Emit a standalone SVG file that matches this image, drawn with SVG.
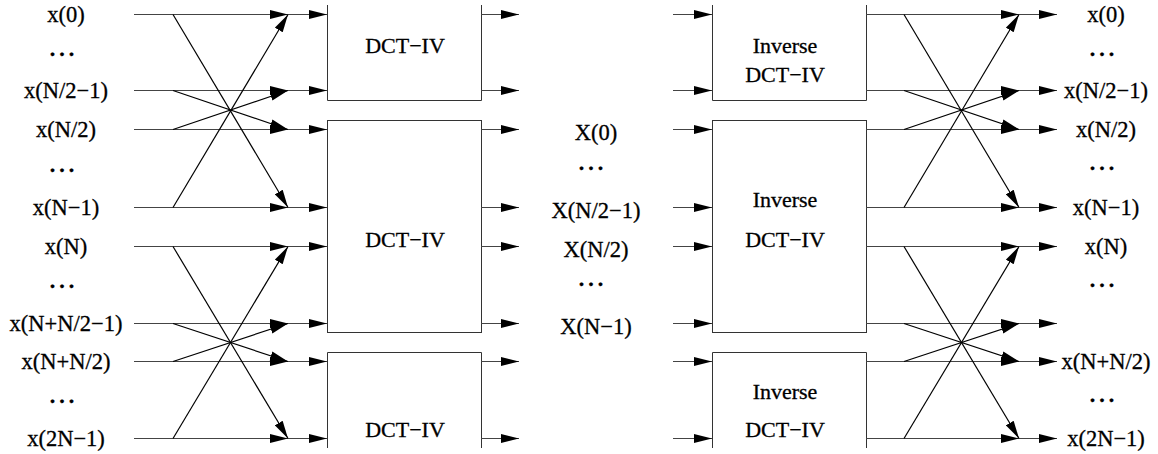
<svg xmlns="http://www.w3.org/2000/svg" width="1158" height="454" viewBox="0 0 1158 454">
<style>
text{font-family:"Liberation Serif","Times New Roman",serif;font-size:22px;fill:#000;stroke:#000;stroke-width:0.3;text-anchor:middle}
.lbl{font-size:22.5px}
.dots{font-weight:bold;letter-spacing:4px}
.box{fill:none;stroke:#333;stroke-width:1}
.h{stroke:#444;stroke-width:1;fill:none}
.d{stroke:#000;stroke-width:1.2;fill:none}
</style>
<defs>
<marker id="a" viewBox="0 0 18 10" refX="18" refY="5" markerWidth="18" markerHeight="10" orient="auto" markerUnits="userSpaceOnUse"><path d="M0,0.5 L18,5 L0,9.5 z" fill="#000"/></marker>
</defs>
<rect width="1158" height="454" fill="#fff"/>

<g id="dct1"><path class="box" d="M327.5,5 V100.5 H481.5 V5"/><text x="405" y="53">DCT−IV</text></g>
<g id="dct2"><rect class="box" x="327.5" y="120.5" width="154" height="212"/><text x="405" y="247">DCT−IV</text></g>
<g id="dct3"><path class="box" d="M327.5,448 V352.5 H481.5 V448"/><text x="405" y="437">DCT−IV</text></g>

<g id="idct1"><path class="box" d="M712.5,5 V100.5 H866.5 V5"/><text x="785" y="53">Inverse</text><text x="785" y="82">DCT−IV</text></g>
<g id="idct2"><rect class="box" x="712.5" y="120.5" width="154" height="212"/><text x="785" y="207">Inverse</text><text x="785" y="247">DCT−IV</text></g>
<g id="idct3"><path class="box" d="M712.5,448 V352.5 H866.5 V448"/><text x="785" y="399">Inverse</text><text x="785" y="437">DCT−IV</text></g>

<g id="inputs">
<text class="lbl" x="66" y="22">x(0)</text>
<text class="dots" x="64" y="56">...</text>
<text class="lbl" x="66" y="98">x(N/2−1)</text>
<text class="lbl" x="66" y="137">x(N/2)</text>
<text class="dots" x="64" y="172">...</text>
<text class="lbl" x="66" y="215">x(N−1)</text>
<text class="lbl" x="66" y="254">x(N)</text>
<text class="dots" x="64" y="288">...</text>
<text class="lbl" x="66" y="331">x(N+N/2−1)</text>
<text class="lbl" x="66" y="369">x(N+N/2)</text>
<text class="dots" x="64" y="403">...</text>
<text class="lbl" x="66" y="446">x(2N−1)</text>
</g>

<g id="coeffs">
<text class="lbl" x="596" y="140">X(0)</text>
<text class="dots" x="593" y="170">...</text>
<text class="lbl" x="596" y="218">X(N/2−1)</text>
<text class="lbl" x="596" y="257">X(N/2)</text>
<text class="dots" x="593" y="286">...</text>
<text class="lbl" x="596" y="334">X(N−1)</text>
</g>

<g id="outputs">
<text class="lbl" x="1106" y="22">x(0)</text>
<text class="dots" x="1104" y="56">...</text>
<text class="lbl" x="1106" y="98">x(N/2−1)</text>
<text class="lbl" x="1106" y="137">x(N/2)</text>
<text class="dots" x="1104" y="170">...</text>
<text class="lbl" x="1106" y="215">x(N−1)</text>
<text class="lbl" x="1106" y="254">x(N)</text>
<text class="dots" x="1104" y="287">...</text>
<text class="lbl" x="1106" y="369">x(N+N/2)</text>
<text class="dots" x="1104" y="402">...</text>
<text class="lbl" x="1106" y="446">x(2N−1)</text>
</g>

<g id="connectors" marker-end="url(#a)">
<g class="h">
<path d="M134,14.5 H288"/><path d="M288,14.5 H327"/>
<path d="M134,90.5 H288"/><path d="M288,90.5 H327"/>
<path d="M134,129.5 H288"/><path d="M288,129.5 H327"/>
<path d="M134,207.5 H288"/><path d="M288,207.5 H327"/>
<path d="M134,246.5 H288"/><path d="M288,246.5 H327"/>
<path d="M134,323.5 H288"/><path d="M288,323.5 H327"/>
<path d="M134,361.5 H288"/><path d="M288,361.5 H327"/>
<path d="M134,438.5 H288"/><path d="M288,438.5 H327"/>
</g>
<g class="d">
<path d="M173,14.5 L288,207.5"/><path d="M173,207.5 L288,14.5"/>
<path d="M173,90.5 L288,129.5"/><path d="M173,129.5 L288,90.5"/>
<path d="M173,246.5 L288,438.5"/><path d="M173,438.5 L288,246.5"/>
<path d="M173,323.5 L288,361.5"/><path d="M173,361.5 L288,323.5"/>
</g>
<g class="h">
<path d="M481,14.5 H519"/><path d="M481,90.5 H519"/>
<path d="M481,129.5 H519"/><path d="M481,207.5 H519"/>
<path d="M481,246.5 H519"/><path d="M481,323.5 H519"/>
<path d="M481,361.5 H519"/><path d="M481,438.5 H519"/>
</g>
<g class="h">
<path d="M673,14.5 H712"/><path d="M673,90.5 H712"/>
<path d="M673,129.5 H712"/><path d="M673,207.5 H712"/>
<path d="M673,246.5 H712"/><path d="M673,323.5 H712"/>
<path d="M673,361.5 H712"/><path d="M673,438.5 H712"/>
</g>
<g class="h">
<path d="M866,14.5 H1019"/><path d="M1019,14.5 H1057"/>
<path d="M866,90.5 H1019"/><path d="M1019,90.5 H1057"/>
<path d="M866,129.5 H1019"/><path d="M1019,129.5 H1057"/>
<path d="M866,207.5 H1019"/><path d="M1019,207.5 H1057"/>
<path d="M866,246.5 H1019"/><path d="M1019,246.5 H1057"/>
<path d="M866,323.5 H1019"/><path d="M1019,323.5 H1057"/>
<path d="M866,361.5 H1019"/><path d="M1019,361.5 H1057"/>
<path d="M866,438.5 H1019"/><path d="M1019,438.5 H1057"/>
</g>
<g class="d">
<path d="M904,14.5 L1019,207.5"/><path d="M904,207.5 L1019,14.5"/>
<path d="M904,90.5 L1019,129.5"/><path d="M904,129.5 L1019,90.5"/>
<path d="M904,246.5 L1019,438.5"/><path d="M904,438.5 L1019,246.5"/>
<path d="M904,323.5 L1019,361.5"/><path d="M904,361.5 L1019,323.5"/>
</g>
</g>
</svg>
